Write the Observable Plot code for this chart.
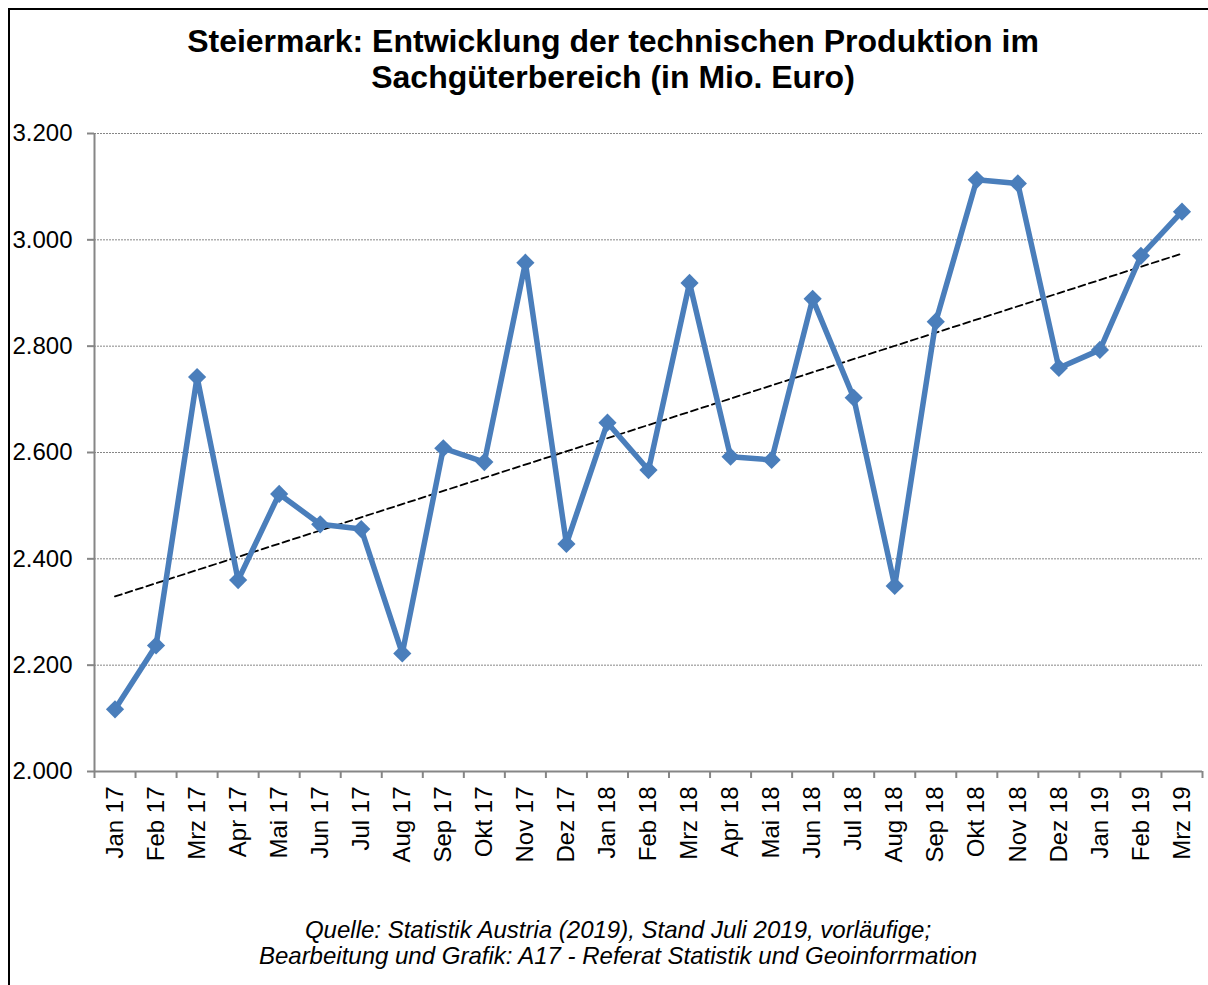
<!DOCTYPE html>
<html>
<head>
<meta charset="utf-8">
<script src="https://cdn.jsdelivr.net/npm/d3@7"></script>
<script src="https://cdn.jsdelivr.net/npm/@observablehq/plot@0.6"></script>
<style>
  html, body { margin: 0; padding: 0; background: #fff; }
  #page { position: relative; width: 1208px; height: 985px; overflow: hidden; font-family: "Liberation Sans", Arial, sans-serif; }
  #border { position: absolute; left: 8px; top: 8px; width: 1210px; height: 990px; border-left: 2.5px solid #000; border-top: 2.5px solid #000; }
  #title { position: absolute; left: 0; top: 23px; width: 1226px; text-align: center; font-weight: bold; font-size: 32px; line-height: 36px; color: #000; white-space: nowrap; }
  #chart { position: absolute; left: 0; top: 100px; }
  #caption { position: absolute; left: 0; top: 917px; width: 1236px; text-align: center; font-style: italic; font-size: 24px; line-height: 26px; color: #000; white-space: nowrap; }
</style>
</head>
<body>
<div id="page">
  <div id="border"></div>
  <div id="title">Steiermark: Entwicklung der technischen Produktion im<br>Sachgüterbereich (in Mio. Euro)</div>
  <div id="chart"></div>
  <div id="caption">Quelle: Statistik Austria (2019), Stand Juli 2019, vorläufige;<br>Bearbeitung und Grafik: A17 - Referat Statistik und Geoinforrmation</div>
</div>
<script>
const months = ["Jan 17","Feb 17","Mrz 17","Apr 17","Mai 17","Jun 17","Jul 17","Aug 17","Sep 17","Okt 17","Nov 17","Dez 17",
                "Jan 18","Feb 18","Mrz 18","Apr 18","Mai 18","Jun 18","Jul 18","Aug 18","Sep 18","Okt 18","Nov 18","Dez 18",
                "Jan 19","Feb 19","Mrz 19"];
const values = [2117,2237,2742,2360,2522,2465,2456,2222,2608,2582,2957,2428,
                2656,2567,2919,2592,2586,2889,2703,2349,2846,3113,3106,2759,
                2793,2970,3053];
const yTicks = [2000,2200,2400,2600,2800,3000,3200];

const data = months.map((m, i) => ({i, month: m, value: values[i]}));
const idx = months.map((m, i) => i);
const boundaries = [...idx.map(i => i - 0.5), months.length - 0.5];

const de = d3.formatLocale({decimal: ",", thousands: ".", grouping: [3], currency: ["", " €"]});
const fmt = de.format(",");

const axisGray = "#868686";
const blue = "#4a7ebb";

const chart = Plot.plot({
  width: 1208,
  height: 780,
  marginLeft: 94,
  marginRight: 6,
  marginTop: 33,
  marginBottom: 109,
  style: {fontFamily: "'Liberation Sans', Arial, sans-serif", color: "#000", background: "transparent"},
  x: {type: "linear", domain: [-0.5, months.length - 0.5]},
  y: {domain: [2000, 3200]},
  marks: [
    Plot.gridY(yTicks.filter(d => d > 2000), {stroke: axisGray, strokeOpacity: 1, strokeWidth: 1, strokeDasharray: "2,1"}),
    Plot.ruleX([-0.5], {stroke: axisGray, strokeWidth: 2}),
    Plot.ruleY([2000], {stroke: axisGray, strokeWidth: 2}),
    Plot.axisY({ticks: yTicks, tickFormat: fmt, tickSize: 7, tickPadding: 15, fontSize: 24, stroke: axisGray, strokeWidth: 2, label: null}),
    Plot.axisX({ticks: boundaries, tickFormat: () => "", tickSize: 7, stroke: axisGray, strokeWidth: 2, label: null}),
    Plot.axisX({ticks: idx, tickFormat: i => months[i], tickSize: 0, tickPadding: 15, tickRotate: -90, fontSize: 24, label: null}),
    Plot.linearRegressionY(data, {x: "i", y: "value", ci: 0, stroke: "#000", strokeWidth: 1.8, strokeDasharray: "7,4"}),
    Plot.line(data, {x: "i", y: "value", stroke: blue, strokeWidth: 5.5, strokeLinejoin: "round"}),
    Plot.dot(data, {x: "i", y: "value", symbol: "diamond2", r: 8.2, fill: blue, stroke: "none"})
  ]
});
document.getElementById("chart").appendChild(chart);
</script>
</body>
</html>
